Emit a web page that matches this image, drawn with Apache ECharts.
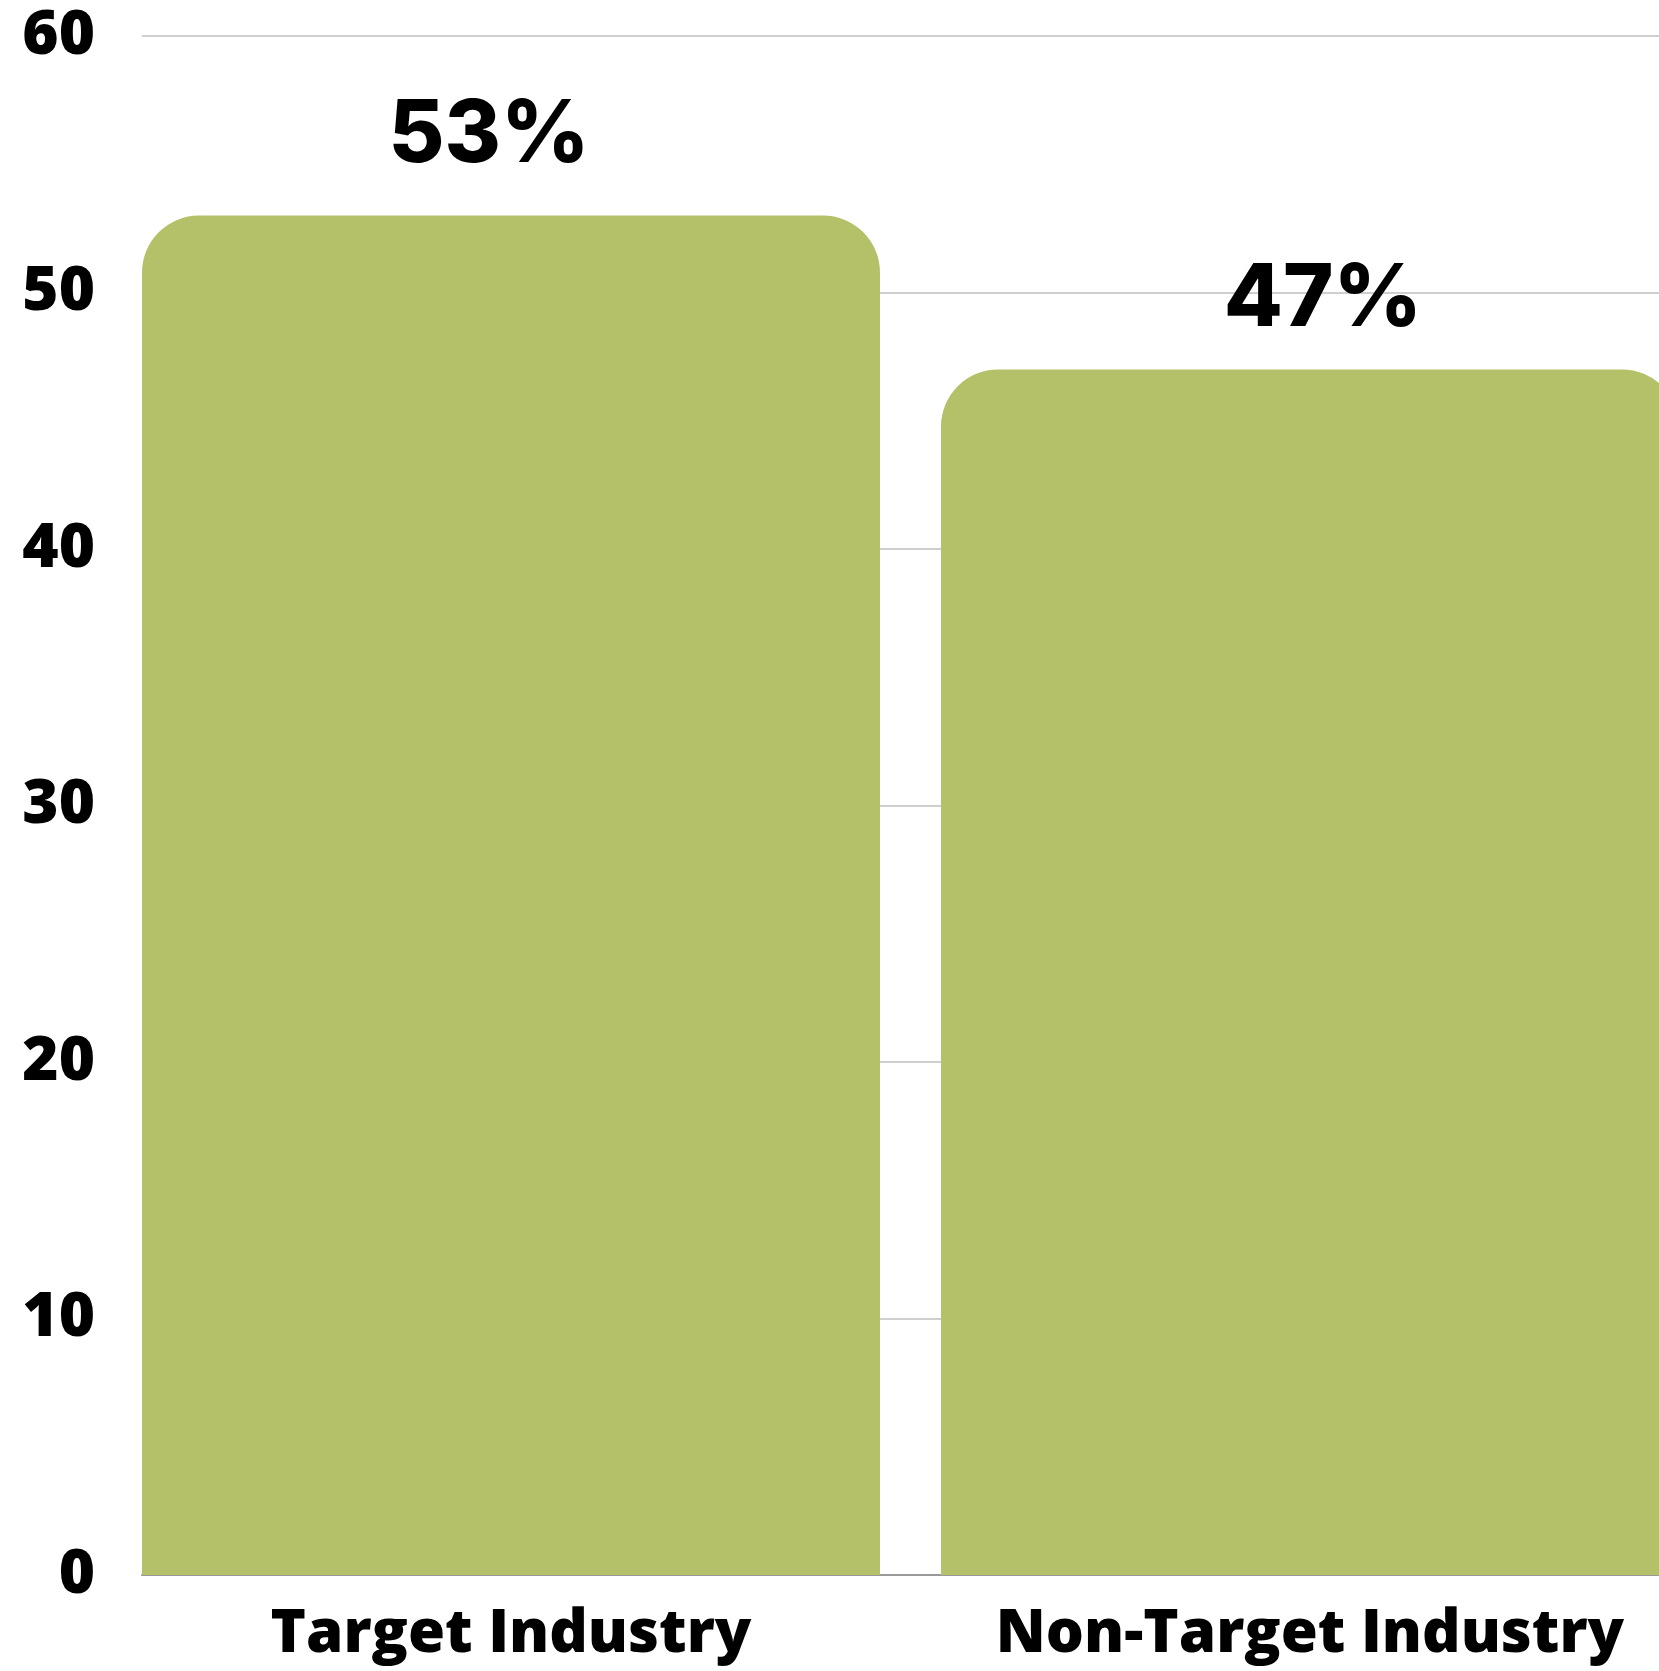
<!DOCTYPE html>
<html>
<head>
<meta charset="utf-8">
<script src="https://cdn.jsdelivr.net/npm/echarts@6/dist/echarts.min.js"></script>
<style>
  html, body { margin: 0; padding: 0; background: #fff; }
  #chart { width: 1659px; height: 1671px; }
</style>
</head>
<body>
<div id="chart"></div>
<script>
// data
const categories = ['Target Industry', 'Non-Target Industry'];
const shares = [53, 47];
const yMin = 0;
const yMax = 60;
const yStep = 10;

const chart = echarts.init(document.getElementById('chart'));

const option = {
  backgroundColor: '#fff',
  animation: false,
  grid: {
    left: 142,
    right: -81, // second bar runs off the right edge in the original
    top: 36,
    bottom: 96,
    containLabel: false,
    outerBoundsMode: 'none'
  },
  xAxis: {
    type: 'category',
    data: categories,
    axisTick: { show: false },
    axisLine: { show: true, lineStyle: { color: '#9a9a9a', width: 2 } },
    axisLabel: {
      interval: 0,
      hideOverlap: false,
      showMinLabel: true,
      showMaxLabel: true,
      color: '#000',
      fontFamily: 'Open Sans',
      fontWeight: 800,
      fontSize: 60,
      margin: 30,
      // centre the text under the bar rather than the band
      padding: [0, 61, 0, 0]
    }
  },
  yAxis: {
    type: 'value',
    min: yMin,
    max: yMax,
    interval: yStep,
    axisLine: { show: false },
    axisTick: { show: false },
    splitLine: { lineStyle: { color: '#cfcfcf', width: 2 } },
    axisLabel: {
      color: '#000',
      fontFamily: 'Open Sans',
      fontWeight: 800,
      fontSize: 62,
      margin: 47
    }
  },
  series: [
    {
      name: 'share',
      type: 'bar',
      barWidth: 738,
      barGap: '0%',
      data: shares.map((v, i) => ({
        value: v,
        // labels sit a little off centre in the original
        label: { offset: i === 0 ? [-22, -5] : [13, 5] }
      })),
      itemStyle: {
        color: '#b4c168',
        borderRadius: [57, 57, 0, 0]
      },
      label: {
        show: true,
        position: 'top',
        distance: 31,
        formatter: '{c}%',
        color: '#000',
        fontFamily: 'Inter',
        fontWeight: 800,
        fontSize: 86
      }
    },
    {
      // empty spacer so each bar hugs the left of its band
      name: 'spacer',
      type: 'bar',
      barWidth: 61,
      barGap: '0%',
      silent: true,
      data: categories.map(() => '-'),
      itemStyle: { color: 'transparent' }
    }
  ]
};

chart.setOption(option);
window.addEventListener('resize', () => {
  chart.resize();
});
</script>
</body>
</html>
